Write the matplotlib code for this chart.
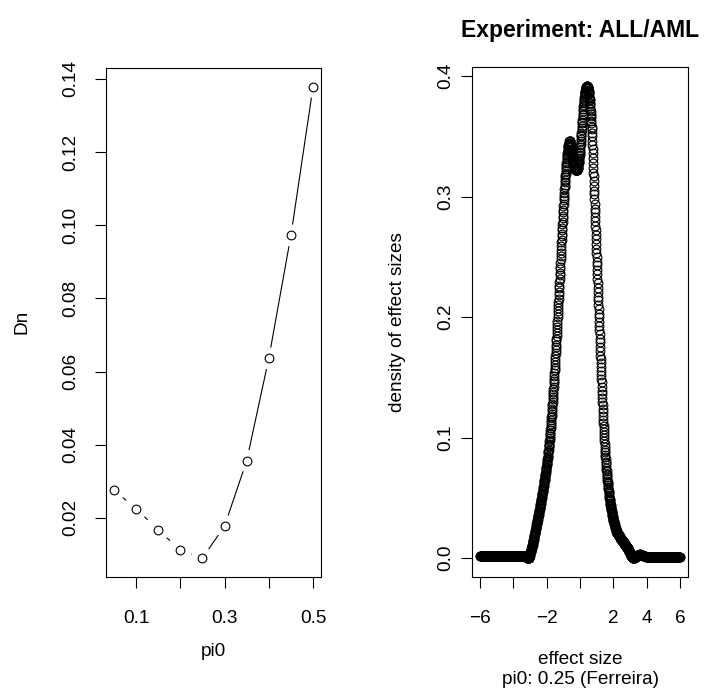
import numpy as np
import matplotlib
matplotlib.use("Agg")
import matplotlib.pyplot as plt

plt.rcParams['font.family'] = ['Liberation Sans', 'DejaVu Sans']

# left panel: Dn against pi0
pi0 = [0.05, 0.10, 0.15, 0.20, 0.25, 0.30, 0.35, 0.40, 0.45, 0.50]
dn = [0.0276, 0.0225, 0.0167, 0.0112, 0.0090, 0.0178, 0.0356, 0.0636, 0.0972, 0.1378]
pi0_best = 0.25   # segments left of this one are dashed

# right panel: density of effect sizes
tail_left = [0.0018] * 140            # x = -6.00 .. -3.22, step 0.02 (flat)
core_milli = """
1 1 1 0 0 0 0 0 0 0
0 0 0 0 1 1 2 2 3 3
4 4 5 5 6 6 7 7 8 8
9 9 10 10 11 11 12 13 14 14
15 15 16 17 18 18 19 20 21 21
22 22 23 24 25 25 26 27 28 28
29 29 30 31 32 32 33 34 35 35
36 36 37 38 39 39 40 41 42 42
43 44 45 45 46 47 48 48 49 50
51 52 53 53 54 55 56 56 57 58
59 60 61 62 63 64 65 65 66 67
68 69 70 71 72 73 74 75 76 77
78 79 80 81 82 83 84 85 87 88
89 90 92 93 94 95 97 98 100 101
103 104 106 108 110 111 113 115 117 118
120 122 124 126 128 130 132 134 136 138
140 142 145 147 149 151 154 156 158 160
163 165 168 170 173 175 177 180 182 184
187 189 192 194 197 200 203 205 208 210
213 215 218 221 224 226 229 232 235 237
240 242 245 248 251 253 256 259 262 264
267 269 272 274 277 279 282 284 287 289
292 294 297 299 301 303 306 308 310 312
314 316 318 319 321 323 325 326 328 329
331 332 334 335 336 337 339 340 341 342
343 343 344 344 345 345 346 346 346 346
345 345 344 343 342 341 340 339 338 337
337 336 335 334 333 332 331 330 329 328
328 327 327 326 326 325 325 324 324 323
323 323 322 322 322 322 322 322 322 322
322 322 322 322 323 323 324 324 325 326
327 328 329 330 331 332 334 335 336 337
339 341 343 344 346 348 350 351 353 355
357 359 361 362 364 366 368 369 371 373
375 376 378 379 380 381 383 384 385 386
387 387 388 389 390 390 391 391 391 391
392 392 392 392 391 391 391 391 390 390
389 388 387 386 385 383 382 381 380 378
377 375 373 371 369 367 365 363 361 358
356 353 350 346 343 340 336 332 328 324
320 317 313 309 305 302 298 294 290 287
283 280 276 272 268 265 261 257 253 250
246 243 239 236 232 228 224 221 217 214
210 207 203 200 196 193 189 186 182 179
175 172 168 165 162 159 155 152 149 146
142 139 136 133 130 127 124 121 118 115
112 110 107 105 102 100 97 95 92 90
88 86 84 82 80 79 77 75 73 72
70 69 67 66 64 63 62 61 59 58
57 56 55 54 52 51 50 49 48 47
46 45 44 44 43 42 41 41 40 39
38 38 37 36 35 35 34 33 32 32
31 31 30 30 29 29 28 28 27 27
26 26 25 25 24 24 23 23 22 22
22 21 21 21 21 21 20 20 20 20
19 19 19 19 18 18 18 18 17 17
17 17 17 17 16 16 16 16 15 15
15 15 15 15 14 14 14 14 13 13
13 13 13 13 12 12 12 12 11 11
11 11 11 11 10 10 10 10 9 9
9 9 9 9 8 8 8 8 7 7
7 7 6 6 6 6 5 5 5 5
4 4 3 3 3 3 2 2 2 2
1 1 1 1 1 1 0 0 0 0
0 0 0 0 0 0 0 0 1 1
1 1 1 1 1 2 2 2 2 2
2
"""                                   # x = -3.20 .. 3.40, step 0.01, in 1/1000
tail_right = [0.0022, 0.0023, 0.0024, 0.0025, 0.0026, 0.0027, 0.0028, 0.0029,
              0.0030, 0.0030, 0.0030, 0.0029, 0.0028, 0.0027, 0.0026, 0.0025,
              0.0023, 0.0022, 0.0021, 0.0020, 0.0019, 0.0018, 0.0017, 0.0016,
              0.0015, 0.0014, 0.0013, 0.0013, 0.0012, 0.0012, 0.0011, 0.0011] \
             + [0.0010] * 98          # x = 3.42 .. 6.00, step 0.02

core = np.array(core_milli.split(), dtype=float) / 1000
dens_x = np.concatenate([np.linspace(-6.0, -3.22, len(tail_left)),
                         np.linspace(-3.2, 3.4, len(core)),
                         np.linspace(3.42, 6.0, len(tail_right))])
dens_y = np.concatenate([tail_left, core, tail_right])

FS = 13.7
W, H = 705, 700


def rlim(v):  # R style 4% range extension
    lo, hi = min(v), max(v)
    r = hi - lo
    return lo - 0.04 * r, hi + 0.04 * r


def gapped(ax, xs, ys, gap, **kw):  # lines of type="b": stop short of the points
    pts = ax.transData.transform(np.column_stack([xs, ys]))
    inv = ax.transData.inverted()
    for (x0, y0), (x1, y1) in zip(pts[:-1], pts[1:]):
        d = np.hypot(x1 - x0, y1 - y0)
        if d <= 2 * gap:
            continue
        ux, uy = (x1 - x0) / d, (y1 - y0) / d
        seg = inv.transform([(x0 + ux * gap, y0 + uy * gap), (x1 - ux * gap, y1 - uy * gap)])
        ax.plot(seg[:, 0], seg[:, 1], color='black', lw=0.8, **kw)


def rstyle(ax):
    for s in ax.spines.values():
        s.set_linewidth(0.8)
    ax.tick_params(direction='out', length=8, width=0.8, labelsize=FS)
    ax.tick_params(axis='x', pad=16)
    plt.setp(ax.get_yticklabels(), rotation=90, va='center')


fig = plt.figure(figsize=(W / 100, H / 100), dpi=100)
ax1 = fig.add_axes([106 / W, (H - 577) / H, 215 / W, 509 / H])
ax2 = fig.add_axes([472 / W, (H - 577) / H, 216 / W, 510 / H])

# left
ax1.set_xlim(rlim(pi0))
ax1.set_ylim(rlim(dn))
ax1.set_xticks([0.1, 0.2, 0.3, 0.4, 0.5])
ax1.set_xticklabels(['0.1', '', '0.3', '', '0.5'])
ax1.set_yticks([0.02, 0.04, 0.06, 0.08, 0.10, 0.12, 0.14])
ax1.set_yticklabels(['0.02', '0.04', '0.06', '0.08', '0.10', '0.12', '0.14'])
rstyle(ax1)
ax1.tick_params(axis='y', pad=11)

k = pi0.index(pi0_best)
gapped(ax1, pi0[:k + 1], dn[:k + 1], 11.5, linestyle=(0, (4, 4)))
gapped(ax1, pi0[k:], dn[k:], 11.5)
ax1.plot(pi0, dn, 'o', mfc='none', mec='black', ms=6.3, mew=0.8)

# right
ax2.set_xlim(rlim(dens_x))
ax2.set_ylim(rlim(dens_y))
ax2.set_xticks([-6, -4, -2, 0, 2, 4, 6])
ax2.set_xticklabels(['\u22126', '', '\u22122', '', '2', '4', '6'])
ax2.set_yticks([0.0, 0.1, 0.2, 0.3, 0.4])
ax2.set_yticklabels(['0.0', '0.1', '0.2', '0.3', '0.4'])
rstyle(ax2)
ax2.tick_params(axis='y', pad=5)
ax2.plot(dens_x, dens_y, 'o', mfc='none', mec='black', ms=6.3, mew=0.8)

# labels
fig.text(213.5 / W, 1 - 652 / H, 'pi0', ha='center', va='center', fontsize=FS)
fig.text(22 / W, 1 - 322 / H, 'Dn', ha='center', va='center', rotation=90, fontsize=FS)
fig.text(398 / W, 1 - 322 / H, 'density of effect sizes', ha='center', va='center',
         rotation=90, fontsize=FS)
fig.text(580 / W, 1 - 660 / H, 'effect size', ha='center', va='center', fontsize=FS)
fig.text(580 / W, 1 - 679 / H, 'pi0: 0.25 (Ferreira)', ha='center', va='center', fontsize=FS)
fig.text(580 / W, 1 - 30 / H, 'Experiment: ALL/AML', ha='center', va='center',
         fontsize=16.5, fontweight='bold')

fig.savefig('out.png', dpi=100)
